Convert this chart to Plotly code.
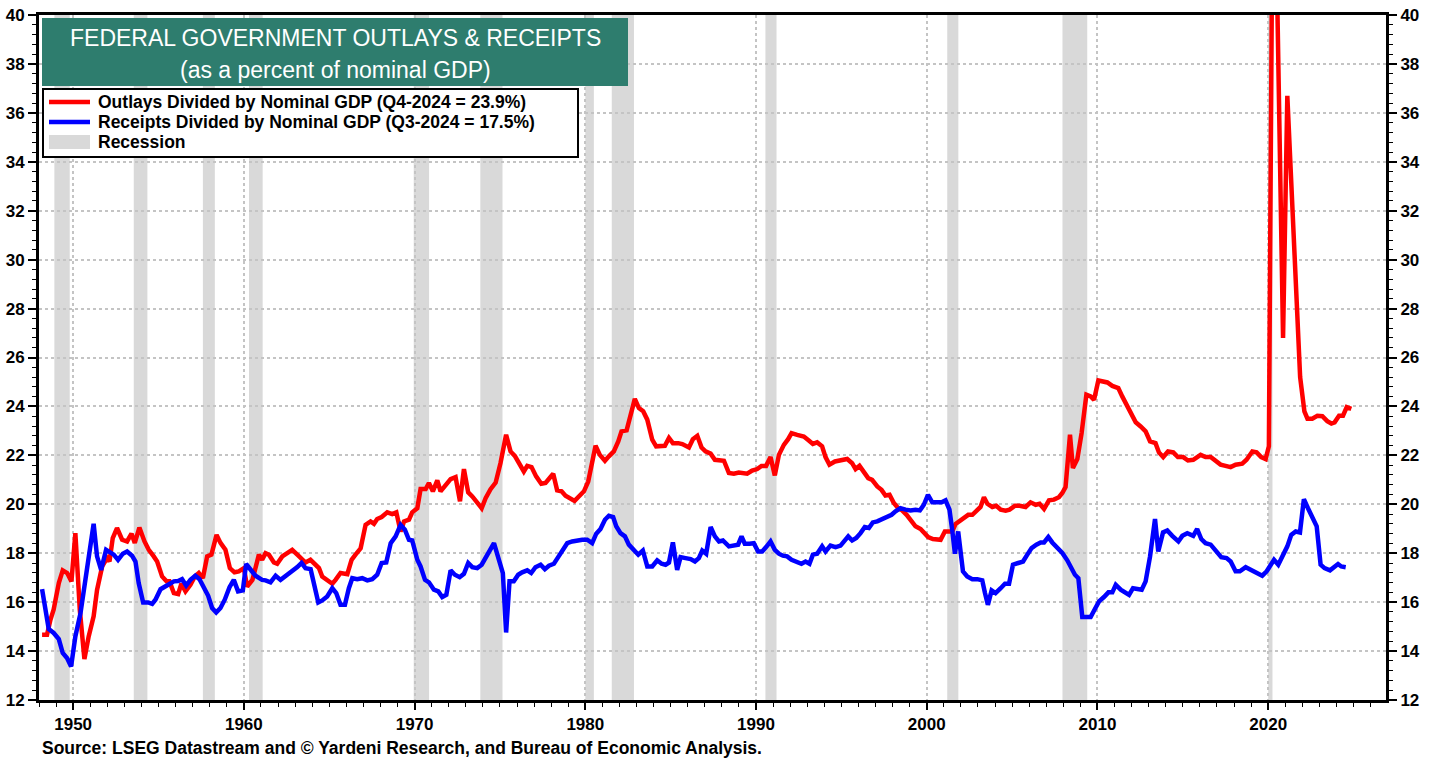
import plotly.graph_objects as go

# ---------------- DATA ----------------
outlay_years = [1948.18,1948.47,1948.67,1948.86,1949.16,1949.39,1949.65,1949.9,1950.13,1950.39,1950.66,1950.91,1951.2,1951.4,1951.7,1951.99,1952.13,1952.32,1952.57,1952.87,1953.16,1953.42,1953.61,1953.88,1954.18,1954.43,1954.72,1954.92,1955.21,1955.47,1955.64,1955.9,1956.15,1956.34,1956.58,1956.87,1957.13,1957.36,1957.6,1957.85,1958.1,1958.4,1958.63,1958.92,1959.18,1959.45,1959.7,1960.0,1960.19,1960.5,1960.88,1961.07,
    1961.27,1961.47,1961.76,1961.95,1962.25,1962.54,1962.83,1963.13,1963.42,1963.61,1963.9,1964.2,1964.4,1964.59,1964.88,1965.18,1965.37,1965.66,1966.06,1966.31,1966.54,1966.84,1967.13,1967.42,1967.62,1967.81,1968.07,1968.4,1968.69,1968.93,1969.18,1969.38,1969.67,1969.86,1970.16,1970.35,1970.65,1970.84,1971.07,1971.33,1971.52,1971.82,1972.11,1972.4,1972.66,1972.89,1973.14,1973.38,1973.67,1973.93,1974.16,1974.45,1974.75,
    1975.03,1975.36,1975.62,1975.87,1976.15,1976.4,1976.6,1976.85,1977.12,1977.42,1977.67,1977.87,1978.12,1978.35,1978.61,1978.84,1979.13,1979.37,1979.62,1979.92,1980.17,1980.36,1980.6,1980.85,1981.15,1981.38,1981.67,1981.93,1982.12,1982.42,1982.65,1982.9,1983.14,1983.39,1983.63,1983.92,1984.15,1984.47,1984.66,1984.9,1985.13,1985.44,1985.68,1986.07,1986.3,1986.56,1986.81,1987.04,1987.34,1987.59,1987.86,1988.12,
    1988.41,1988.7,1988.99,1989.48,1989.77,1990.07,1990.32,1990.59,1990.85,1991.1,1991.34,1991.63,1991.88,1992.08,1992.41,1992.8,1993.09,1993.33,1993.58,1993.87,1994.07,1994.3,1994.62,1994.95,1995.34,1995.63,1995.83,1996.06,1996.32,1996.57,1996.8,1997.1,1997.35,1997.58,1997.82,1998.07,1998.33,1998.56,1998.82,1999.05,1999.34,1999.64,1999.89,2000.08,2000.36,2000.81,2001.06,2001.49,
    2001.69,2002.08,2002.43,2002.67,2002.96,2003.15,2003.35,2003.55,2003.84,2004.07,2004.33,2004.62,2004.85,2005.17,2005.44,2005.79,2006.08,2006.38,2006.61,2006.87,2007.16,2007.45,2007.74,2007.94,2008.13,2008.39,2008.56,2008.82,2009.07,2009.35,2009.6,2009.8,2010.05,2010.28,2010.58,2010.87,2011.22,2011.45,2011.69,2011.94,2012.24,2012.53,2012.82,2013.08,
    2013.4,2013.6,2013.85,2014.13,2014.44,2014.71,2015.02,2015.3,2015.61,2016.04,2016.33,2016.63,2016.92,2017.21,2017.5,2017.8,2018.09,2018.48,2018.73,2019.07,2019.32,2019.59,2019.85,2020.04,
    2020.3,2020.55,2020.87,2021.12,2021.37,2021.62,2021.87,2022.12,2022.3,2022.58,2022.88,2023.17,2023.46,2023.7,2023.89,2024.15,2024.38,2024.6,2024.87]
outlay_vals = [14.67,14.67,15.28,15.7,16.78,17.3,17.19,16.85,18.82,15.69,13.67,14.6,15.42,16.5,17.46,17.8,17.66,18.62,19.03,18.55,18.48,18.8,18.42,19.05,18.48,18.14,17.87,17.66,17.05,16.85,16.85,16.37,16.33,16.75,16.44,16.71,17.05,17.19,16.98,17.87,17.94,18.75,18.42,18.14,17.39,17.22,17.26,17.39,16.64,16.91,17.94,17.73,
    18.0,17.94,17.62,17.57,17.87,17.98,18.14,17.94,17.73,17.62,17.73,17.53,17.39,17.05,16.91,16.75,16.91,17.19,17.14,17.73,17.94,18.2,19.16,19.3,19.2,19.4,19.48,19.67,19.6,19.67,18.89,19.3,19.37,19.67,19.84,20.62,20.62,20.87,20.53,20.98,20.53,20.8,21.03,21.11,20.12,21.44,20.49,20.32,20.08,19.84,20.25,20.62,20.89,
    21.68,22.84,22.16,21.98,21.62,21.34,21.57,21.52,21.14,20.84,20.87,21.03,21.25,20.57,20.53,20.35,20.21,20.14,20.32,20.53,20.93,21.68,22.39,22.02,21.78,21.96,22.16,22.57,22.98,23.02,23.66,24.31,23.93,23.8,23.46,22.64,22.37,22.37,22.39,22.71,22.5,22.5,22.46,22.32,22.66,22.8,22.32,22.16,22.07,21.82,21.79,21.78,
    21.28,21.25,21.3,21.25,21.38,21.44,21.57,21.57,21.93,21.18,22.02,22.43,22.66,22.91,22.84,22.77,22.61,22.47,22.53,22.37,21.93,21.62,21.75,21.78,21.85,21.68,21.44,21.57,21.28,21.07,21.0,20.73,20.59,20.36,20.39,20.05,19.84,19.75,19.57,19.34,19.1,18.99,18.82,18.66,18.58,18.55,18.89,18.89,
    19.2,19.37,19.57,19.57,19.78,19.89,20.29,20.02,19.89,19.94,19.78,19.74,19.78,19.94,19.94,19.89,20.08,19.98,20.02,19.81,20.16,20.19,20.29,20.46,20.7,22.84,21.48,21.85,22.91,24.48,24.41,24.27,25.06,25.02,24.98,24.84,24.75,24.41,24.07,23.73,23.35,23.18,22.98,22.57,
    22.5,22.12,21.93,22.16,22.12,21.93,21.93,21.79,21.82,22.02,21.93,21.93,21.79,21.62,21.57,21.52,21.62,21.66,21.82,22.16,22.12,21.93,21.85,22.37,
    50.0,38.5,26.8,36.7,32.8,28.5,25.2,23.8,23.5,23.5,23.62,23.6,23.4,23.3,23.35,23.62,23.62,23.97,23.9]

receipt_years = [1948.18,1948.57,1948.86,1949.16,1949.39,1949.65,1949.88,1950.13,1950.43,1950.68,1950.91,1951.2,1951.4,1951.64,1951.93,1952.18,1952.38,1952.63,1952.91,1953.16,1953.45,1953.65,1953.84,1954.1,1954.39,1954.63,1954.82,1955.12,1955.41,1955.64,1955.9,1956.15,1956.38,1956.62,1956.87,1957.16,1957.4,1957.65,1957.91,1958.14,1958.38,1958.63,1958.88,1959.16,1959.41,1959.66,1959.94,1960.13,1960.39,1960.68,1961.07,
    1961.27,1961.56,1961.86,1962.15,1962.44,1962.73,1962.93,1963.13,1963.38,1963.61,1963.91,1964.16,1964.36,1964.59,1964.88,1965.18,1965.41,1965.66,1965.92,1966.15,1966.35,1966.64,1966.93,1967.23,1967.52,1967.81,1968.07,1968.34,1968.6,1968.89,1969.18,1969.43,1969.67,1969.86,1970.16,1970.35,1970.61,1970.84,1971.13,1971.39,1971.62,1971.86,1972.11,1972.36,1972.64,1972.89,1973.14,1973.38,1973.67,1973.93,1974.16,1974.4,1974.65,
    1974.97,1975.17,1975.36,1975.56,1975.81,1976.07,1976.3,1976.6,1976.83,1977.08,1977.38,1977.63,1977.87,1978.16,1978.41,1978.65,1978.94,1979.23,1979.53,1979.82,1980.11,1980.4,1980.64,1980.89,1981.15,1981.38,1981.63,1981.81,1982.06,1982.32,1982.55,1982.85,1983.1,1983.37,1983.63,1983.92,1984.21,1984.47,1984.7,1984.9,1985.13,1985.38,1985.58,1985.87,1986.17,1986.42,1986.65,1986.85,1987.08,1987.34,1987.59,1987.83,1988.06,
    1988.41,1988.7,1988.95,1989.15,1989.34,1989.62,1989.87,1990.12,1990.36,1990.59,1990.85,1991.1,1991.34,1991.57,1991.82,1992.08,1992.35,1992.66,1992.9,1993.13,1993.33,1993.58,1993.87,1994.07,1994.36,1994.66,1994.95,1995.14,1995.4,1995.63,1995.87,1996.12,1996.37,1996.61,1996.84,1997.1,1997.39,1997.68,1997.94,1998.17,1998.46,1998.76,1999.05,1999.34,1999.6,1999.83,2000.07,2000.32,2000.61,2000.87,2001.1,2001.33,2001.49,2001.65,2001.84,
    2002.12,2002.37,2002.67,2002.96,2003.25,2003.41,2003.58,2003.8,2004.03,2004.33,2004.58,2004.82,2005.05,2005.36,2005.64,2005.89,2006.14,2006.42,2006.67,2006.87,2007.12,2007.35,2007.65,2007.94,2008.23,2008.49,2008.68,2008.88,2009.11,2009.37,2009.6,2009.85,2010.09,2010.38,2010.64,2010.87,2011.07,2011.36,2011.61,2011.85,2012.08,2012.33,2012.59,2012.82,2013.08,2013.37,2013.56,2013.84,2014.09,2014.38,2014.74,2014.97,2015.26,
    2015.61,2015.84,2016.08,2016.33,2016.63,2016.92,2017.25,2017.56,2017.8,2018.09,2018.34,2018.68,2018.97,2019.32,2019.65,2019.91,2020.1,2020.34,2020.59,2020.83,2021.12,2021.35,2021.61,2021.86,2022.09,2022.33,2022.58,2022.84,2023.07,2023.3,2023.62,2023.85,2024.09,2024.28,2024.54]
receipt_vals = [16.53,14.9,14.74,14.49,13.92,13.71,13.37,14.6,15.55,16.78,17.6,19.2,17.87,17.32,18.14,18.0,17.94,17.73,17.98,18.07,17.9,17.66,16.78,15.99,15.99,15.93,16.1,16.53,16.67,16.74,16.85,16.86,16.94,16.68,16.91,17.08,16.94,16.64,16.26,15.76,15.58,15.76,16.1,16.61,16.91,16.44,16.48,17.56,17.32,17.08,16.91,
    16.89,16.81,17.08,16.91,17.05,17.22,17.3,17.43,17.6,17.39,17.35,16.64,15.99,16.07,16.23,16.57,16.37,15.89,15.89,16.57,16.98,16.94,16.98,16.89,16.94,17.12,17.6,17.62,18.41,18.69,19.16,18.96,18.55,18.52,17.73,17.46,16.91,16.81,16.51,16.44,16.21,16.3,17.3,17.12,17.02,17.16,17.6,17.43,17.39,17.53,17.8,18.11,18.41,
    17.66,17.19,14.76,16.85,16.85,17.12,17.22,17.3,17.19,17.43,17.53,17.35,17.49,17.57,17.84,18.14,18.41,18.48,18.52,18.55,18.55,18.41,18.8,18.99,19.37,19.53,19.48,19.1,18.82,18.69,18.35,18.14,17.94,18.11,17.46,17.46,17.71,17.57,17.53,17.62,18.44,17.32,17.84,17.8,17.76,17.66,17.8,18.11,17.98,19.07,18.69,18.48,18.52,
    18.28,18.31,18.35,18.69,18.39,18.39,18.41,18.07,18.07,18.25,18.48,18.14,17.98,17.9,17.87,17.73,17.66,17.57,17.66,17.57,17.94,17.98,18.28,18.07,18.31,18.25,18.31,18.48,18.69,18.52,18.62,18.82,19.07,19.03,19.26,19.3,19.4,19.5,19.57,19.71,19.84,19.78,19.75,19.78,19.75,19.98,20.39,20.08,20.08,20.08,20.16,19.78,18.96,17.98,18.89,
    17.26,17.05,16.94,16.94,16.89,16.37,15.89,16.48,16.37,16.57,16.75,16.75,17.53,17.6,17.66,17.94,18.21,18.35,18.44,18.44,18.66,18.44,18.21,18.01,17.71,17.32,17.12,16.98,15.39,15.39,15.39,15.72,16.03,16.21,16.4,16.4,16.71,16.51,16.4,16.3,16.57,16.53,16.51,16.85,17.87,19.4,18.07,18.85,18.93,18.71,18.48,18.71,18.82,
    18.71,18.99,18.58,18.41,18.35,18.14,17.84,17.8,17.66,17.26,17.26,17.43,17.32,17.22,17.08,17.26,17.49,17.73,17.53,17.87,18.28,18.75,18.89,18.85,20.21,19.84,19.43,19.1,17.53,17.39,17.3,17.42,17.56,17.46,17.43]

recession_starts = [1948.9, 1953.55, 1957.6, 1960.3, 1969.95, 1973.85, 1980.0, 1981.55, 1990.55, 2001.2, 2007.95, 2020.0]
recession_ends   = [1949.8, 1954.35, 1958.3, 1961.1, 1970.85, 1975.15, 1980.5, 1982.85, 1991.2, 2001.85, 2009.4, 2020.25]

title_line1 = "FEDERAL GOVERNMENT OUTLAYS & RECEIPTS"
title_line2 = "(as a percent of nominal GDP)"
outlay_name = "Outlays Divided by Nominal GDP (Q4-2024 = 23.9%)"
receipt_name = "Receipts Divided by Nominal GDP (Q3-2024 = 17.5%)"
recession_name = "Recession"
source_text = "Source: LSEG Datastream and © Yardeni Research, and Bureau of Economic Analysis."

x_ticks = [1950, 1960, 1970, 1980, 1990, 2000, 2010, 2020]
y_ticks = list(range(12, 41, 2))

# ---------------- FIGURE ----------------
FONT = "Arial, Liberation Sans, sans-serif"
W, H = 1438, 763
ML, MR, MT, MB = 39, 52, 15, 63
PW, PH = W - ML - MR, H - MT - MB
RED, BLUE, GRAY = "#FF0000", "#0000FF", "#D9D9D9"


def px(x):
    return (x - ML) / PW


def py(y):
    return (H - MB - y) / PH


fig = go.Figure()

fig.add_trace(go.Scatter(x=outlay_years, y=outlay_vals, mode="lines", name=outlay_name,
                         line=dict(color=RED, width=4.5), hoverinfo="x+y"))
fig.add_trace(go.Scatter(x=receipt_years, y=receipt_vals, mode="lines", name=receipt_name,
                         line=dict(color=BLUE, width=4.5), hoverinfo="x+y"))
# helper trace for right-hand axis
fig.add_trace(go.Scatter(x=[None], y=[None], yaxis="y2", showlegend=False, hoverinfo="skip"))

for s, e in zip(recession_starts, recession_ends):
    fig.add_shape(type="rect", xref="x", yref="paper", x0=s, x1=e, y0=0, y1=1,
                  fillcolor=GRAY, line=dict(width=0), layer="below")

# title box
fig.add_shape(type="rect", xref="paper", yref="paper",
              x0=px(42), x1=px(628), y0=py(86), y1=py(18),
              fillcolor="#2E7D6E", line=dict(width=0), layer="above")
for txt, yy in ((title_line1, 38), (title_line2, 70)):
    fig.add_annotation(xref="paper", yref="paper", x=px(335), y=py(yy), text=txt,
                       showarrow=False, font=dict(family=FONT, size=23, color="white"),
                       xanchor="center", yanchor="middle")

# legend box (drawn by hand to match the reference layout)
fig.add_shape(type="rect", xref="paper", yref="paper",
              x0=px(43), x1=px(578), y0=py(157), y1=py(89),
              fillcolor="white", line=dict(color="black", width=2), layer="above")
legend_rows = [(outlay_name, RED, 102), (receipt_name, BLUE, 122), (recession_name, GRAY, 142)]
for name, col, yy in legend_rows:
    if col == GRAY:
        fig.add_shape(type="rect", xref="paper", yref="paper",
                      x0=px(49), x1=px(90), y0=py(149), y1=py(135),
                      fillcolor=GRAY, line=dict(width=0), layer="above")
    else:
        fig.add_shape(type="line", xref="paper", yref="paper",
                      x0=px(49), x1=px(90), y0=py(yy), y1=py(yy),
                      line=dict(color=col, width=4.5), layer="above")
    fig.add_annotation(xref="paper", yref="paper", x=px(96), y=py(yy), text=name,
                       showarrow=False, font=dict(family=FONT, size=17.5, color="black", weight="bold"),
                       xanchor="left", yanchor="middle")

fig.add_annotation(xref="paper", yref="paper", x=px(40), y=py(748), text=source_text,
                   showarrow=False, font=dict(family=FONT, size=17.5, color="black", weight="bold"),
                   xanchor="left", yanchor="middle")

tickfont = dict(family=FONT, size=17, color="black", weight="bold")
yaxis_common = dict(range=[12, 40], tickvals=y_ticks, ticks="outside", ticklen=8, tickwidth=2,
                    tickcolor="black", showline=True, linecolor="black", linewidth=3,
                    tickfont=tickfont, zeroline=False, fixedrange=True,
                    minor=dict(dtick=0.4, tick0=12, ticks="outside", ticklen=4, tickwidth=1,
                               tickcolor="black", showgrid=False))

fig.update_layout(
    width=W, height=H,
    margin=dict(l=ML, r=MR, t=MT, b=MB, autoexpand=False),
    paper_bgcolor="white", plot_bgcolor="white",
    font=dict(family=FONT, color="black"),
    showlegend=False,
    xaxis=dict(range=[1948.0, 2026.9], tickvals=x_ticks, ticktext=[str(v) for v in x_ticks],
               ticks="outside", ticklen=7, tickwidth=2, tickcolor="black",
               showline=True, linecolor="black", linewidth=3, mirror=True,
               showgrid=True, gridcolor="#C4C4C4", gridwidth=1.5, griddash="dot",
               tickfont=tickfont, zeroline=False, fixedrange=True,
               minor=dict(dtick=1, tick0=1950, ticks="outside", ticklen=4, tickwidth=1,
                          tickcolor="black", showgrid=False)),
    yaxis=dict(**yaxis_common, side="left", mirror=True, showgrid=True,
               gridcolor="#C4C4C4", gridwidth=1.5, griddash="dot"),
    yaxis2=dict(**yaxis_common, side="right", overlaying="y", showgrid=False),
    hovermode="closest",
)

fig.write_html("out.html", include_plotlyjs=True, config={"displayModeBar": False},
               post_script="document.body.style.margin='0';document.body.style.overflow='hidden';")
